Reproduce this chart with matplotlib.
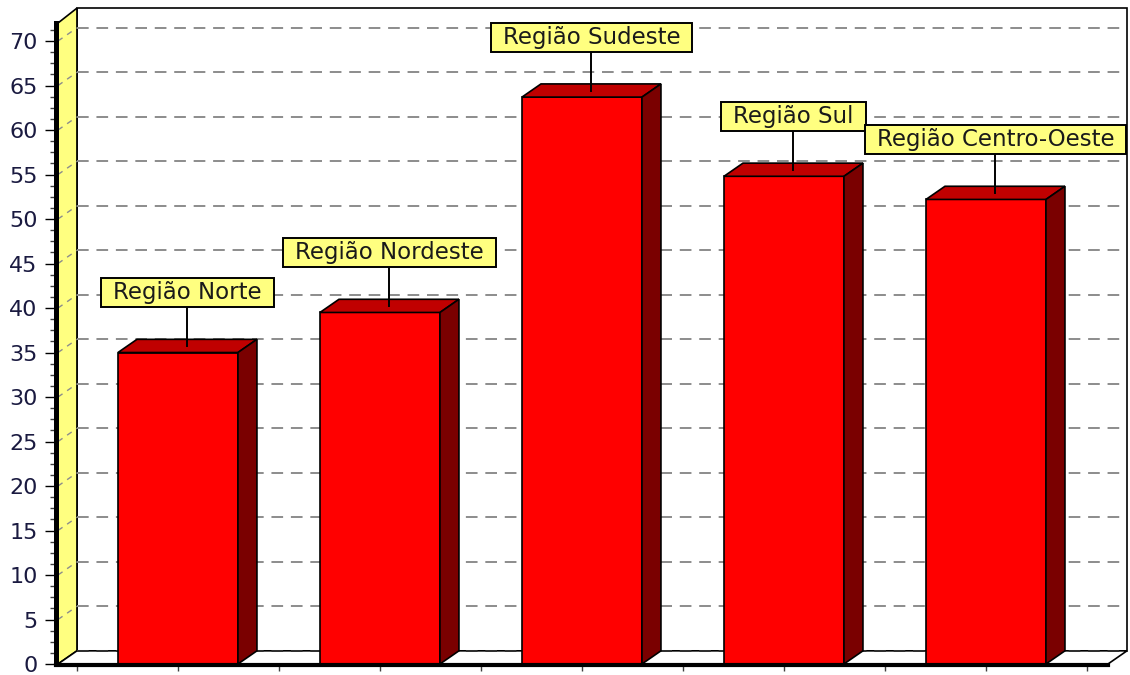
import numpy as np
import matplotlib.pyplot as plt
from matplotlib.patches import Polygon, Rectangle
from matplotlib.ticker import FixedLocator, NullFormatter

regioes = ['Região Norte', 'Região Nordeste', 'Região Sudeste', 'Região Sul', 'Região Centro-Oeste']
valores = [35.0, 39.5, 63.7, 54.8, 52.2]
y_ticks = list(range(0, 75, 5))

# fake 3d look
DX, DY = 0.094, 1.48      # depth offset (x in categories, y in values)
W = 0.594                 # bar width
XB0, XB1 = -0.5, 4.698    # back wall left / right
XF0, XF1 = XB0 - DX, XB1 - DX
TOP_B = 73.7

plt.rcParams['font.family'] = ['DejaVu Sans']

fig = plt.figure(figsize=(11.3, 6.75), dpi=100)
ax = fig.add_axes([0, 0, 1, 1])
ax.set_xlim(-0.881, 4.713)
ax.set_ylim(-1.236, 74.61)

# back wall, left wall, floor
ax.add_patch(Polygon([(XB0, DY), (XB1, DY), (XB1, TOP_B), (XB0, TOP_B)],
                     closed=True, fc='white', ec='black', lw=1.2, zorder=0.5))
ax.add_patch(Polygon([(XF0, 0), (XB0, DY), (XB0, TOP_B), (XF0, TOP_B - DY - 0.2)],
                     closed=True, fc='#ffff80', ec='black', lw=1.2, zorder=0.6))
ax.add_patch(Polygon([(XF0, 0), (XF1, 0), (XB1, DY), (XB0, DY)],
                     closed=True, fc='white', ec='black', lw=1.2, zorder=0.6))

# grid lines on back wall and slanted on the left wall
for v in y_ticks:
    c = '#303030' if v == 0 else '#8c8c8c'
    ax.plot([XB0, XB1], [v + DY, v + DY], color=c, lw=1.4, dashes=(6, 4), zorder=0.7)
    if v > 0:
        ax.plot([XF0, XB0], [v, v + DY], color='#8c8c8c', lw=1.0, dashes=(4, 4), zorder=0.7)

# bars
x = np.arange(len(valores))
ax.bar(x, valores, width=W, color='#ff0000', edgecolor='black', linewidth=1.2, zorder=3)
for xi, v in zip(x, valores):
    l, r = xi - W / 2, xi + W / 2
    ax.add_patch(Polygon([(l, v), (r, v), (r + DX, v + DY), (l + DX, v + DY)],
                         closed=True, fc='#c00000', ec='black', lw=1.2, zorder=3))
    ax.add_patch(Polygon([(r, 0), (r + DX, DY), (r + DX, v + DY), (r, v)],
                         closed=True, fc='#7a0000', ec='black', lw=1.2, zorder=3))

# labels with yellow boxes
fig.canvas.draw()
rend = fig.canvas.get_renderer()
inv = ax.transData.inverted()
for k, (xi, v, nome) in enumerate(zip(x, valores, regioes)):
    cx = xi + DX / 2
    cy = v + 6.75
    t = ax.text(cx, cy, nome, ha='center', va='center', fontsize=16.5,
                color='#1a1a1a', zorder=6 + 2 * k)
    bb = t.get_window_extent(rend)
    (x0, _), (x1, _) = inv.transform([(bb.x0 - 12, 0), (bb.x1 + 12, 0)])
    h = 29 / 8.9
    ax.add_patch(Rectangle((x0, cy - h / 2), x1 - x0, h, fc='#ffff80', ec='black',
                           lw=1.4, zorder=5 + 2 * k))
    ax.plot([cx, cx], [v + DY / 2, cy - h / 2], color='black', lw=1.4, zorder=4)

# axes: left spine and bottom spine as the 3d front edges
for s in ['top', 'right']:
    ax.spines[s].set_visible(False)
ax.spines['left'].set_position(('data', XF0 - 0.012))
ax.spines['left'].set_bounds(0, TOP_B - DY - 0.2)
ax.spines['left'].set_linewidth(3.6)
ax.spines['left'].set_zorder(4)
ax.spines['bottom'].set_position(('data', -0.15))
ax.spines['bottom'].set_bounds(XF0 - 0.012, XF1)
ax.spines['bottom'].set_linewidth(3)
ax.spines['bottom'].set_zorder(4)

ax.yaxis.set_major_locator(FixedLocator(y_ticks))
ax.yaxis.set_minor_locator(FixedLocator(np.arange(0, 72.5, 1.25)))
ax.tick_params(axis='y', which='major', length=8, width=1, direction='out',
               labelsize=16, labelcolor='#1a1a40', pad=5)
ax.tick_params(axis='y', which='minor', length=4, width=1, direction='out', color='#404040')

ax.xaxis.set_major_locator(FixedLocator(np.arange(-0.5, 4.75, 0.5)))
ax.xaxis.set_major_formatter(NullFormatter())
ax.tick_params(axis='x', which='major', length=4, width=1, direction='out', color='#404040')

fig.savefig('out.png', dpi=100)
